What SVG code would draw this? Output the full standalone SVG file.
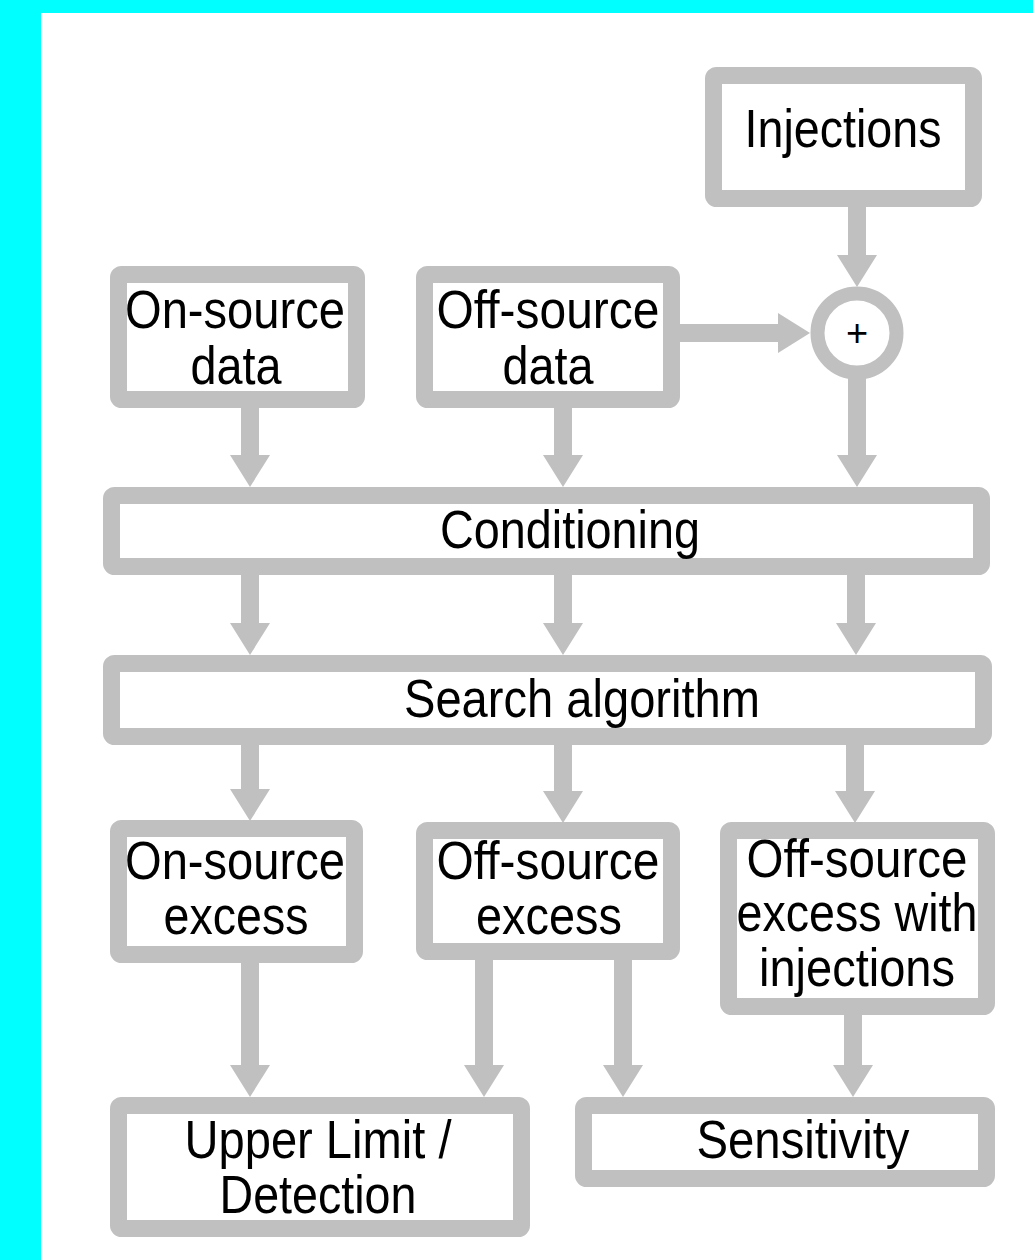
<svg xmlns="http://www.w3.org/2000/svg" width="1033" height="1260" viewBox="0 0 1033 1260">
<style>
.box{fill:#fff;stroke:#c0c0c0;stroke-width:17;stroke-linejoin:round}
.lbl{font-family:"Liberation Sans",Arial,sans-serif;font-size:54px;fill:#000;text-anchor:middle}
.con{stroke:#c0c0c0;stroke-width:18;fill:none}
</style>
<defs>
<marker id="ah" markerUnits="userSpaceOnUse" markerWidth="32" markerHeight="40" viewBox="0 0 32 40" refX="0" refY="20" orient="auto">
<path d="M0,0 L32,20 L0,40 z" fill="#c0c0c0"/>
</marker>
</defs>
<rect x="0" y="0" width="1033" height="1260" fill="#00ffff"/>
<rect x="41" y="13" width="992" height="1247" fill="#fff"/>
<g id="connectors">
<line class="con" x1="857" y1="207" x2="857" y2="255" marker-end="url(#ah)"/>
<line class="con" x1="680" y1="333" x2="778" y2="333" marker-end="url(#ah)"/>
<line class="con" x1="857" y1="378" x2="857" y2="455" marker-end="url(#ah)"/>
<line class="con" x1="250" y1="408" x2="250" y2="455" marker-end="url(#ah)"/>
<line class="con" x1="563" y1="408" x2="563" y2="455" marker-end="url(#ah)"/>
<line class="con" x1="250" y1="575" x2="250" y2="623" marker-end="url(#ah)"/>
<line class="con" x1="563" y1="575" x2="563" y2="623" marker-end="url(#ah)"/>
<line class="con" x1="856" y1="575" x2="856" y2="623" marker-end="url(#ah)"/>
<line class="con" x1="250" y1="745" x2="250" y2="789" marker-end="url(#ah)"/>
<line class="con" x1="563" y1="745" x2="563" y2="791" marker-end="url(#ah)"/>
<line class="con" x1="855" y1="745" x2="855" y2="791" marker-end="url(#ah)"/>
<line class="con" x1="250" y1="962" x2="250" y2="1065" marker-end="url(#ah)"/>
<line class="con" x1="484" y1="958" x2="484" y2="1065" marker-end="url(#ah)"/>
<line class="con" x1="623" y1="958" x2="623" y2="1065" marker-end="url(#ah)"/>
<line class="con" x1="853" y1="1013" x2="853" y2="1065" marker-end="url(#ah)"/>
</g>
<g id="injections"><rect class="box" x="713.5" y="75.5" width="260" height="123" rx="3"/><text class="lbl" x="843" y="147" textLength="197" lengthAdjust="spacingAndGlyphs">Injections</text></g>
<g id="sum"><circle cx="857" cy="333" r="39.5" fill="#fff" stroke="#c0c0c0" stroke-width="14"/><text x="857" y="346" font-family="Liberation Sans,Arial,sans-serif" font-size="38" text-anchor="middle">+</text></g>
<g id="onsource-data"><rect class="box" x="118.5" y="274.5" width="238" height="125" rx="3"/><text class="lbl" x="235" y="328" textLength="220" lengthAdjust="spacingAndGlyphs">On-source</text><text class="lbl" x="236" y="384" textLength="91" lengthAdjust="spacingAndGlyphs">data</text></g>
<g id="offsource-data"><rect class="box" x="424.5" y="274.5" width="247" height="125" rx="3"/><text class="lbl" x="548" y="328" textLength="223" lengthAdjust="spacingAndGlyphs">Off-source</text><text class="lbl" x="548" y="384" textLength="91" lengthAdjust="spacingAndGlyphs">data</text></g>
<g id="conditioning"><rect class="box" x="111.5" y="495.5" width="870" height="71" rx="3"/><text class="lbl" x="570" y="548" textLength="260" lengthAdjust="spacingAndGlyphs">Conditioning</text></g>
<g id="search"><rect class="box" x="111.5" y="663.5" width="872" height="73" rx="3"/><text class="lbl" x="582" y="717" textLength="356" lengthAdjust="spacingAndGlyphs">Search algorithm</text></g>
<g id="onsource-excess"><rect class="box" x="118.5" y="828.5" width="236" height="126" rx="3"/><text class="lbl" x="235" y="879" textLength="220" lengthAdjust="spacingAndGlyphs">On-source</text><text class="lbl" x="236" y="934" textLength="145" lengthAdjust="spacingAndGlyphs">excess</text></g>
<g id="offsource-excess"><rect class="box" x="424.5" y="830.5" width="247" height="121" rx="3"/><text class="lbl" x="548" y="879" textLength="223" lengthAdjust="spacingAndGlyphs">Off-source</text><text class="lbl" x="549" y="934" textLength="146" lengthAdjust="spacingAndGlyphs">excess</text></g>
<g id="offsource-inj"><rect class="box" x="728.5" y="830.5" width="258" height="176" rx="3"/><text class="lbl" x="857" y="877" textLength="221" lengthAdjust="spacingAndGlyphs">Off-source</text><text class="lbl" x="857" y="931" textLength="241" lengthAdjust="spacingAndGlyphs">excess with</text><text class="lbl" x="857" y="986" textLength="196" lengthAdjust="spacingAndGlyphs">injections</text></g>
<g id="upper-limit"><rect class="box" x="118.5" y="1105.5" width="403" height="123" rx="3"/><text class="lbl" x="318" y="1158" textLength="267" lengthAdjust="spacingAndGlyphs">Upper Limit /</text><text class="lbl" x="318" y="1213" textLength="197" lengthAdjust="spacingAndGlyphs">Detection</text></g>
<g id="sensitivity"><rect class="box" x="583.5" y="1105.5" width="403" height="73" rx="3"/><text class="lbl" x="803" y="1158" textLength="213" lengthAdjust="spacingAndGlyphs">Sensitivity</text></g>
</svg>
